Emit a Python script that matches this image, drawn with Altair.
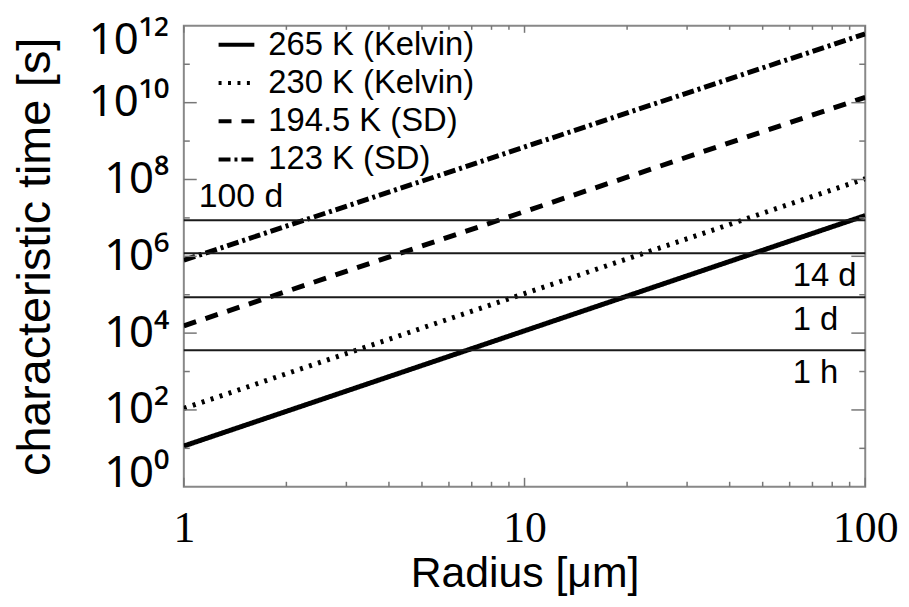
import altair as alt
import pandas as pd

# ---------------- data ----------------
radius = [1, 100]
series = ["265 K (Kelvin)", "230 K (Kelvin)", "194.5 K (SD)", "123 K (SD)"]
time_at_r1 = [11.5, 110, 1.55e4, 7.9e5]
time_at_r100 = [1.15e7, 1.05e8, 1.38e10, 6.2e11]

ref_names = ["1 h", "1 d", "14 d", "100 d"]
ref_seconds = [3600, 86400, 1209600, 8640000]

x_tick_values = [1, 10, 100]
x_tick_labels = ["1", "10", "100"]
x_minor_values = [2, 3, 4, 5, 6, 7, 8, 9, 20, 30, 40, 50, 60, 70, 80, 90]

y_label_values = [1e0, 1e2, 1e4, 1e6, 1e8, 1e10, 1e12]
y_tick_labels = ["10⁰", "10²", "10⁴", "10⁶", "10⁸", "10¹⁰", "10¹²"]
y_odd_ticks = [1e1, 1e3, 1e5, 1e7, 1e9, 1e11]
y_even_ticks = [1e2, 1e4, 1e6, 1e8, 1e10]

# ---------------- tables ----------------
rows = []
for s, a, b in zip(series, time_at_r1, time_at_r100):
    rows.append({"series": s, "radius": radius[0], "time": a})
    rows.append({"series": s, "radius": radius[1], "time": b})
lines_df = pd.DataFrame(rows)
ref_df = pd.DataFrame({"name": ref_names, "seconds": ref_seconds})

W, H = 686, 464
SANS = "Liberation Sans"
SERIF = "Liberation Serif"

xs = alt.Scale(type="log", domain=[1, 100], nice=False)
ys = alt.Scale(type="log", domain=[1, 1e12], nice=False)

x_label_expr = "[" + ",".join("'%s'" % l for l in x_tick_labels) + "][round(log(datum.value)/LN10)]"
y_label_expr = "[" + ",".join("'%s'" % l for l in y_tick_labels) + "][round(log(datum.value)/LN10/2)]"

x_axis = alt.Axis(
    values=x_tick_values, labelExpr=x_label_expr, ticks=False, domain=False, grid=False,
    labelFont=SERIF, labelFontSize=44, labelPadding=20, labelBaseline="top",
    labelColor="black", labelOverlap=False, labelBound=False, labelFlush=False,
    title="Radius [μm]", titleFont=SANS, titleFontSize=43, titleFontWeight="normal",
    titleColor="black", titleY=100, titleBaseline="alphabetic",
)

y_axis = alt.Axis(
    values=y_label_values, labelExpr=y_label_expr, ticks=False, domain=False, grid=False,
    labelFont="Noto Sans", labelFontSize=44, labelPadding=15, labelColor="black",
    labelOverlap=False, labelBound=False, labelFlush=False,
    labelBaseline={
        "condition": [
            {"test": "datum.value <= 1", "value": "alphabetic"},
            {"test": "datum.value >= 1e12", "value": "line-top"},
        ],
        "value": "middle",
    },
    labelLineHeight=30,
    title="characteristic time [s]", titleFont=SANS, titleFontSize=47,
    titleFontWeight="normal", titleColor="black", titleAngle=270,
    titleX=-135, titleY=232, titleAlign="center", titleBaseline="alphabetic",
)

dashes = [[1, 0], [3, 6.5], [13, 10], [12, 4, 3, 4]]

lines = alt.Chart(lines_df).mark_line(
    color="black", strokeWidth=5, strokeCap="butt", clip=True
).encode(
    x=alt.X("radius:Q", scale=xs, axis=x_axis),
    y=alt.Y("time:Q", scale=ys, axis=y_axis),
    strokeDash=alt.StrokeDash(
        "series:N",
        scale=alt.Scale(domain=series, range=dashes),
        sort=series,
        legend=alt.Legend(
            title=None, orient="none", legendX=33, legendY=-1,
            symbolType="stroke", symbolSize=1296, symbolStrokeWidth=4,
            symbolStrokeColor="black", labelFont=SANS, labelFontSize=33,
            labelColor="black", labelOffset=12, rowPadding=1.5, padding=0,
            labelLimit=400,
        ),
    ),
)

rules = alt.Chart(ref_df).mark_rule(color="#1a1a1a", strokeWidth=2).encode(
    y=alt.Y("seconds:Q", scale=ys, axis=y_axis)
)

left_lbl = alt.Chart(ref_df).transform_filter("datum.seconds > 5e6").mark_text(
    align="left", baseline="alphabetic", dx=15, dy=-13, font=SANS, fontSize=34, color="black"
).encode(
    x=alt.datum(1, scale=xs, axis=x_axis),
    y=alt.Y("seconds:Q", scale=ys, axis=y_axis),
    text="name:N",
)

right_lbl = alt.Chart(ref_df).transform_filter("datum.seconds < 5e6").mark_text(
    align="left", baseline="alphabetic", dx=-73, dy=33, font=SANS, fontSize=33, color="black"
).encode(
    x=alt.datum(100, scale=xs, axis=x_axis),
    y=alt.Y("seconds:Q", scale=ys, axis=y_axis),
    text="name:N",
)

TICK = dict(color="#777777", strokeWidth=1.5)


def xtick(vals, y0, y1):
    return alt.Chart(pd.DataFrame({"v": vals})).mark_rule(**TICK).encode(
        x=alt.X("v:Q", scale=xs, axis=x_axis), y=alt.value(y0), y2=alt.value(y1)
    )


def ytick(vals, x0, x1):
    return alt.Chart(pd.DataFrame({"v": vals})).mark_rule(**TICK).encode(
        y=alt.Y("v:Q", scale=ys, axis=y_axis), x=alt.value(x0), x2=alt.value(x1)
    )


ticks = [
    xtick(x_minor_values, H, H - 5),
    xtick(x_tick_values, H, H - 9),
    xtick(x_minor_values, 0, 4),
    xtick(x_tick_values, 0, 7),
    ytick(y_odd_ticks, 0, 6),
    ytick(y_even_ticks, 0, 13),
    ytick(y_odd_ticks, W, W - 6),
    ytick(y_even_ticks, W, W - 14),
]

chart = alt.layer(
    lines, *ticks, rules, left_lbl, right_lbl
).properties(
    width=W, height=H,
    autosize=alt.AutoSizeParams(type="none"),
    padding={"left": 177, "top": 16, "right": 36, "bottom": 108},
).configure_view(
    stroke="#888888", strokeWidth=2
)

chart.save("out.html", embed_options={"renderer": "svg", "actions": False})
